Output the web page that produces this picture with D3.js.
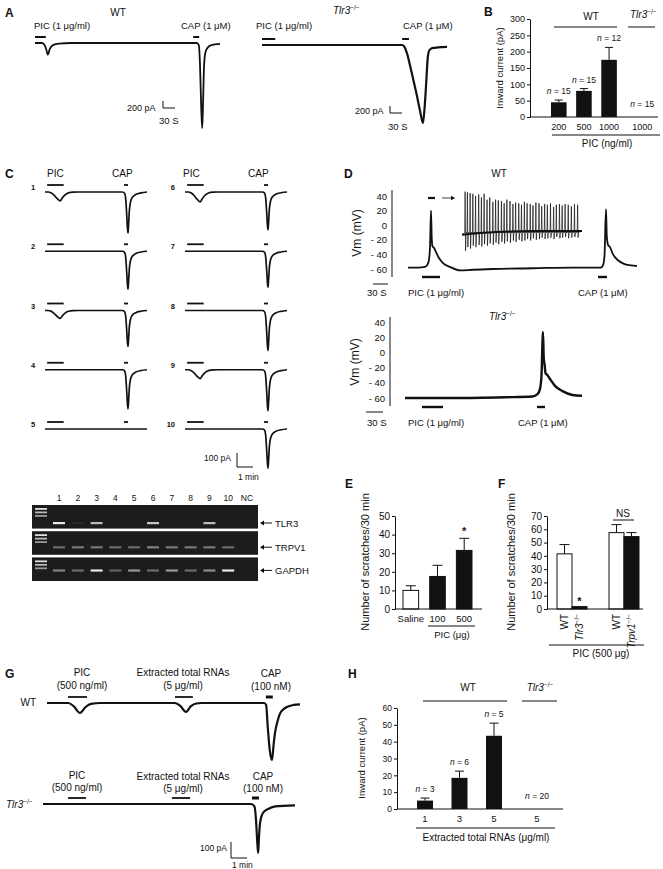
<!DOCTYPE html>
<html lang="en">
<head>
<meta charset="UTF-8">
<title>TLR3 figure</title>
<style>
  body { margin: 0; background: #fff; }
  text { font-family: "Liberation Sans", Arial, Helvetica, sans-serif; fill: #111; }
</style>
</head>
<body>
<svg width="663" height="869"></svg>
<script src="https://d3js.org/d3.v7.min.js"></script>
<script>
// ---------------- data ----------------
// A: inward currents, time (s) / current (pA)
var aWtTrace = [[0,0],[18,0],[24,-60],[28,-180],[32,-330],[37,-170],[45,-60],[60,-20],[90,0],[404,0],[409,-60],[412,-600],[415,-1800],[417.5,-2430],[419.5,-1800],[422,-700],[425,-300],[430,-150],[440,-60],[462,-25]];
var aKoTrace = [[0,0],[350,0],[355,-40],[362,-230],[370,-600],[378,-1000],[386,-1400],[395,-1900],[402,-2230],[406,-1800],[410,-1100],[414,-350],[418,-150],[425,-90],[440,-70],[462,-55]];
var aWtStim = [[0,27],[395,410]];
var aKoStim = [[0,33],[350,367]];

// B
var bDoses = ["200","500","1000","1000"];
var bGroup = ["WT","WT","WT","KO"];
var bMean = [45,80,175,0];
var bErr = [7,7,38,0];
var bN = [15,15,12,15];
var bTicks = [0,50,100,150,200,250,300];

// C: ten neurons, PIC and CAP response amplitudes (pA)
var cCells = [1,2,3,4,5,6,7,8,9,10];
var cPicAmp = [64,0,57,0,0,71,0,0,64,0];
var cCapAmp = [293,271,257,279,0,271,257,286,293,279];
var cPicShape = [[0,0],[12,0],[22,-0.08],[34,-0.35],[46,-0.75],[57,-1],[64,-0.7],[74,-0.35],[88,-0.1],[105,-0.02],[125,0]];
var cCapShape = [[290,0],[298,-0.03],[302,-0.15],[306,-0.55],[309,-0.9],[311,-1],[313,-0.8],[316,-0.45],[320,-0.25],[327,-0.13],[340,-0.06],[360,-0.02],[382,0]];
var cStim = [[8,70],[296,311]];

// C gel: band intensities per lane
var gelLanes = ["1","2","3","4","5","6","7","8","9","10","NC"];
var gelGenes = ["TLR3","TRPV1","GAPDH"];
var tlr3Band  = [0.9,0.05,0.7,0,0,0.75,0,0,0.7,0,0];
var trpv1Band = [0.35,0.4,0.4,0.35,0.35,0.45,0.4,0.4,0.4,0.35,0];
var gapdhBand = [0.45,0.35,0.9,0.3,0.55,0.35,0.55,0.35,0.5,0.9,0];

// D: membrane potential, time (s) / mV
var dWtTrace = [[0,-58],[20,-58],[34,-57],[39,-54],[42,-47],[44,-30],[46,20],[47.5,-18],[49,-29],[52,-31],[56,-37],[62,-45],[70,-52],[84,-57],[104,-62],[130,-61],[170,-60],[250,-59],[330,-58],[386,-58],[390,-55],[393,-42],[396,22],[397.5,-14],[400,-27],[404,-30],[410,-40],[420,-48],[432,-53],[446,-55],[458,-56]];
var dWtStim = [[28,64],[380,398]];
var insetT = [30,52,78,104,130,160,186,212,240,266,296,322,348,378,404,430,460,488,514,544,570,598,624,654,680,708,738,764,792,818,848,878,904,934,960,988,1018,1048,1078,1108];
var insetPeak = [46,45,44,43,40,42,38,43,35,38,32,35,34,33,30,35,33,29,31,30,28,32,30,29,27,31,30,26,29,28,30,25,28,29,27,29,28,26,29,28];
var insetTrough = [-35,-30,-32,-28,-30,-27,-29,-26,-28,-25,-27,-24,-26,-23,-25,-22,-24,-21,-23,-20,-22,-21,-19,-21,-18,-20,-19,-17,-19,-18,-17,-19,-16,-18,-17,-16,-18,-17,-16,-17];
var insetBase = [[0,-13],[150,-11],[400,-9],[700,-8],[1000,-8],[1150,-8]];
var dKoTrace = [[0,-60],[100,-60],[200,-59],[255,-58],[265,-55],[270,-48],[273,-30],[276,27],[277.5,-8],[279,-15],[281,-27],[285,-30],[290,-35],[300,-44],[315,-51],[335,-56],[354,-57]];
var dKoStim = [[34,76],[264,280]];
var vmTicks = [40,20,0,-20,-40,-60];

// E
var eCats = ["Saline","100","500"];
var eMean = [10,17.5,31.5];
var eErr = [2.5,6,6.5];
var eTicks = [0,10,20,30,40,50];

// F
var fCats = ["WT","Tlr3","WT","Trpv1"];
var fMean = [41.5,1.8,57.5,54.5];
var fErr = [7,0,6,3];
var fTicks = [0,10,20,30,40,50,60,70];

// G: currents, time (s) / pA
var gWtTrace = [[0,0],[80,0],[100,-20],[124,-62],[145,-25],[165,-5],[200,0],[480,0],[500,-18],[521,-56],[540,-20],[560,-3],[580,0],[815,0],[822,-12],[828,-150],[836,-300],[844,-356],[850,-260],[855,-190],[866,-106],[876,-60],[884,-44],[900,-25],[925,-12],[949,-8]];
var gWtStim = [[79,150],[480,547],[821,847]];
var gKoTrace = [[0,0],[780,0],[792,-15],[798,-100],[803,-250],[806,-306],[809,-210],[813,-120],[820,-70],[830,-45],[845,-30],[870,-15],[944,-8]];
var gKoStim = [[94,161],[483,551],[783,809]];

// H
var hDoses = ["1","3","5","5"];
var hGroup = ["WT","WT","WT","KO"];
var hMean = [5,18.5,43.5,0];
var hErr = [1.5,4,7.5,0];
var hN = [3,6,5,20];
var hTicks = [0,10,20,30,40,50,60];

// ---------------- helpers ----------------
var svg = d3.select("svg");

function txt(g, x, y, s, size, anchor, extra) {
  var t = g.append("text").attr("x", x).attr("y", y).attr("font-size", size)
    .attr("text-anchor", anchor || "start").text(s);
  if (extra) t.attr("font-weight", extra);
  return t;
}
function koText(g, x, y, gene, size, anchor) {
  var t = g.append("text").attr("x", x).attr("y", y).attr("font-size", size)
    .attr("text-anchor", anchor || "start");
  t.append("tspan").attr("font-style", "italic").text(gene);
  t.append("tspan").attr("font-size", size * 0.65).attr("dy", -size * 0.4).text("−/−");
  return t;
}
function nText(g, x, y, n, size) {
  var t = g.append("text").attr("x", x).attr("y", y).attr("font-size", size).attr("text-anchor", "middle");
  t.append("tspan").attr("font-style", "italic").text("n");
  t.append("tspan").text(" = " + n);
}
function hline(g, x1, x2, y, w) {
  g.append("line").attr("x1", x1).attr("x2", x2).attr("y1", y).attr("y2", y)
    .attr("stroke", "#111").attr("stroke-width", w || 1);
}
function vline(g, x, y1, y2, w) {
  g.append("line").attr("x1", x).attr("x2", x).attr("y1", y1).attr("y2", y2)
    .attr("stroke", "#111").attr("stroke-width", w || 1);
}
function trace(g, pts, x, y, w) {
  var line = d3.line().x(function(d){ return x(d[0]); }).y(function(d){ return y(d[1]); })
    .curve(d3.curveMonotoneX);
  g.append("path").datum(pts).attr("d", line).attr("fill", "none")
    .attr("stroke", "#111").attr("stroke-width", w || 1.6).attr("stroke-linejoin", "round");
}
function stim(g, spans, x, y, w) {
  spans.forEach(function(s){ hline(g, x(s[0]), x(s[1]), y, w || 2); });
}
function scaleBar(g, x0, yb, dx, dy) {
  g.append("path").attr("d", "M" + x0 + "," + (yb - dy) + "V" + yb + "H" + (x0 + dx))
    .attr("fill", "none").attr("stroke", "#111").attr("stroke-width", 1);
}
function yAxis(g, y, ticks, x, size, fmt) {
  var ax = d3.axisLeft(y).tickValues(ticks).tickSize(3).tickSizeOuter(0).tickPadding(2);
  if (fmt) ax.tickFormat(fmt);
  var a = g.append("g").attr("transform", "translate(" + x + ",0)").call(ax);
  a.selectAll("text").attr("font-size", size).style("font-family", "'Liberation Sans', Arial, sans-serif").attr("fill", "#111");
  a.selectAll("path,line").attr("stroke", "#111");
  return a;
}
function yLabel(g, x, y, s, size) {
  g.append("text").attr("transform", "translate(" + x + "," + y + ") rotate(-90)")
    .attr("text-anchor", "middle").attr("font-size", size).text(s);
}
function errBars(g, cx, y, mean, err, cap) {
  mean.forEach(function(m, i){
    if (!err[i]) return;
    var c = cx(i);
    vline(g, c, y(m), y(m + err[i]));
    hline(g, c - cap / 2, c + cap / 2, y(m + err[i]));
  });
}

// ---------------- A ----------------
var gA = svg.append("g");
txt(gA, 5, 17, "A", 12, "start", "bold");
var xA1 = d3.scaleLinear().domain([0, 462]).range([35, 220]);
var yA1 = d3.scaleLinear().domain([0, -2500]).range([43, 130.5]);
trace(gA, aWtTrace, xA1, yA1, 1.8);
stim(gA, aWtStim, xA1, 37);
txt(gA, 118, 16, "WT", 10, "middle");
txt(gA, 34, 29, "PIC (1 μg/ml)", 9.5);
txt(gA, 181, 29, "CAP (1 μM)", 9.5);
scaleBar(gA, 163, 108, xA1(30) - xA1(0), yA1(-200) - yA1(0));
txt(gA, 127, 111, "200 pA", 9);
txt(gA, 159, 124, "30 S", 9.5);

var xA2 = d3.scaleLinear().domain([0, 462]).range([262, 447]);
var yA2 = d3.scaleLinear().domain([0, -2500]).range([45, 132.5]);
trace(gA, aKoTrace, xA2, yA2, 2.2);
stim(gA, aKoStim, xA2, 39);
koText(gA, 333, 14, "Tlr3", 10);
txt(gA, 256, 29, "PIC (1 μg/ml)", 9.5);
txt(gA, 403, 29, "CAP (1 μM)", 9.5);
scaleBar(gA, 390, 113, xA2(30) - xA2(0), yA2(-200) - yA2(0));
txt(gA, 355, 114, "200 pA", 9);
txt(gA, 388, 130, "30 S", 9.5);

// ---------------- B ----------------
var gB = svg.append("g");
txt(gB, 484, 16, "B", 12, "start", "bold");
var xB = d3.scaleBand().domain(d3.range(bDoses.length)).range([551, 642]).paddingInner(0.38).paddingOuter(0);
var yB = d3.scaleLinear().domain([0, 300]).range([117, 19]);
function bx(i) { return xB(i) + (bGroup[i] === "KO" ? 8 : 0); }
gB.selectAll("rect.bar").data(bMean).join("rect").attr("class", "bar")
  .attr("x", function(d, i){ return bx(i); }).attr("width", xB.bandwidth())
  .attr("y", function(d){ return yB(d); }).attr("height", function(d){ return yB(0) - yB(d); })
  .attr("fill", "#111");
errBars(gB, function(i){ return bx(i) + xB.bandwidth() / 2; }, yB, bMean, bErr, 8);
yAxis(gB, yB, bTicks, 530, 9);
hline(gB, 530, 658, 117);
bDoses.forEach(function(d, i){
  var c = bx(i) + xB.bandwidth() / 2;
  txt(gB, c, 130, d, 9, "middle");
  nText(gB, c, bMean[i] > 0 ? yB(bMean[i] + bErr[i]) - 6 : 107, bN[i], 8.5);
});
hline(gB, 554, 617, 27);
txt(gB, 591, 20, "WT", 10, "middle");
hline(gB, 628, 655, 27);
koText(gB, 630, 18, "Tlr3", 10);
hline(gB, 552, 660, 135);
txt(gB, 607, 147, "PIC (ng/ml)", 10, "middle");
yLabel(gB, 503, 68, "Inward current (pA)", 9.5);

// ---------------- C ----------------
var gC = svg.append("g");
txt(gC, 5, 178, "C", 12, "start", "bold");
txt(gC, 47, 177, "PIC", 10); txt(gC, 112, 177, "CAP", 10);
txt(gC, 183, 177, "PIC", 10); txt(gC, 248, 177, "CAP", 10);
var rowY = d3.scalePoint().domain(d3.range(5)).range([192, 429]);
cCells.forEach(function(cell, i){
  var col = i < 5 ? 0 : 1, row = i % 5;
  var base = rowY(row);
  var x = d3.scaleLinear().domain([0, 382]).range(col ? [185, 287] : [45, 147]);
  var y = d3.scaleLinear().domain([0, -300]).range([base, base + 42]);
  var pts = cPicShape.map(function(p){ return [p[0], p[1] * cPicAmp[i]]; })
    .concat([[200, 0]])
    .concat(cCapShape.map(function(p){ return [p[0], p[1] * cCapAmp[i]]; }));
  trace(gC, pts, x, y, 1.7);
  stim(gC, cStim, x, base - 7, 1.8);
  txt(gC, col ? 175 : 33, base - 2, String(cell), 7.5, col ? "end" : "middle", "bold");
});
scaleBar(gC, 237, 467, 16, 14);
txt(gC, 231, 461, "100 pA", 8.5, "end");
txt(gC, 238, 480, "1 min", 8.5);

// gel
var lx = d3.scalePoint().domain(gelLanes).range([59, 247]);
gelLanes.forEach(function(l){ txt(gC, lx(l), 501, l, 8.5, "middle"); });
var gelTop = d3.scaleBand().domain(gelGenes).range([505, 581]).paddingInner(0.1);
var defs = svg.append("defs");
defs.append("filter").attr("id", "blur").append("feGaussianBlur").attr("stdDeviation", 0.7);
var bandSets = [tlr3Band, trpv1Band, gapdhBand];
var bandOff = [17, 15, 12];
gelGenes.forEach(function(gene, k){
  var top = gelTop(gene), h = gelTop.bandwidth();
  gC.append("rect").attr("x", 32).attr("y", top).attr("width", 226).attr("height", h).attr("fill", "#1c1c1c");
  [3, 6.5, 10].forEach(function(o, j){
    gC.append("rect").attr("x", 35).attr("y", top + o).attr("width", 12).attr("height", 1.8)
      .attr("fill", "#fff").attr("opacity", 0.85 - j * 0.15).attr("filter", "url(#blur)");
  });
  gC.selectAll(null).data(bandSets[k]).join("rect")
    .attr("x", function(d, i){ return lx(gelLanes[i]) - 6; }).attr("width", 12)
    .attr("y", top + bandOff[k]).attr("height", 2.2)
    .attr("fill", "#fff").attr("opacity", function(d){ return d; }).attr("filter", "url(#blur)");
  var ay = top + bandOff[k] + 1;
  gC.append("path").attr("d", "M260," + ay + "l4,-2.5v5z").attr("fill", "#111");
  hline(gC, 262, 272, ay);
  txt(gC, 275, ay + 3.5, gene, 9.5);
});

// ---------------- D ----------------
var gD = svg.append("g");
txt(gD, 344, 178, "D", 12, "start", "bold");
txt(gD, 499, 177, "WT", 10, "middle");
var xD1 = d3.scaleLinear().domain([0, 458]).range([408, 637]);
var yD1 = d3.scaleLinear().domain([-60, 40]).range([269, 196]);
var vmFmt = function(d){ return d < 0 ? "- " + (-d) : String(d); };
var aD1 = yAxis(gD, yD1, vmTicks, 392, 9.5, vmFmt);
aD1.call(function(a){ a.selectAll(".tick line").remove(); a.select(".domain").attr("d", "M0,190V277"); });
trace(gD, dWtTrace, xD1, yD1, 1.8);
stim(gD, dWtStim, xD1, 277, 2.4);
hline(gD, xD1(40), xD1(54), 198, 2.2);
hline(gD, xD1(68), xD1(92), 198, 0.8);
gD.append("path").attr("d", "M" + xD1(94) + ",198l-4,-2.2v4.4z").attr("fill", "#111");
var xIn = d3.scaleLinear().domain([0, 1150]).range([462, 582]);
var inPts = [[0, -13]];
insetT.forEach(function(t, i){
  inPts.push([t - 4, -10], [t, insetPeak[i]], [t + 4, insetTrough[i]], [t + 9, -10]);
});
inPts.push([1150, -8]);
gD.append("path").datum(inPts)
  .attr("d", d3.line().x(function(d){ return xIn(d[0]); }).y(function(d){ return yD1(d[1]); }))
  .attr("fill", "none").attr("stroke", "#111").attr("stroke-width", 0.7);
trace(gD, insetBase, xIn, yD1, 2);
yLabel(gD, 361, 233, "Vm (mV)", 12);
hline(gD, 373, 388, 284, 1);
txt(gD, 367, 296, "30 S", 9.5);
txt(gD, 408, 296, "PIC (1 μg/ml)", 9.5);
txt(gD, 578, 296, "CAP (1 μM)", 9.5);

var xD2 = d3.scaleLinear().domain([0, 354]).range([405, 582]);
var yD2 = d3.scaleLinear().domain([-60, 40]).range([398, 322]);
var aD2 = yAxis(gD, yD2, vmTicks, 390, 9.5, vmFmt);
aD2.call(function(a){ a.selectAll(".tick line").remove(); a.select(".domain").attr("d", "M0,317V406"); });
trace(gD, dKoTrace, xD2, yD2, 2.4);
stim(gD, dKoStim, xD2, 407, 2.4);
koText(gD, 489, 320, "Tlr3", 10);
yLabel(gD, 359, 362, "Vm (mV)", 12);
hline(gD, 366, 383, 412, 1);
txt(gD, 367, 426, "30 S", 9.5);
txt(gD, 408, 426, "PIC (1 μg/ml)", 9.5);
txt(gD, 518, 426, "CAP (1 μM)", 9.5);

// ---------------- E ----------------
var gE = svg.append("g");
txt(gE, 345, 488, "E", 12, "start", "bold");
var xE = d3.scaleBand().domain(d3.range(eCats.length)).range([403, 472]).paddingInner(0.415).paddingOuter(0);
var yE = d3.scaleLinear().domain([0, 50]).range([609, 516]);
gE.selectAll("rect.bar").data(eMean).join("rect").attr("class", "bar")
  .attr("x", function(d, i){ return xE(i); }).attr("width", xE.bandwidth())
  .attr("y", function(d){ return yE(d); }).attr("height", function(d){ return yE(0) - yE(d); })
  .attr("fill", function(d, i){ return i === 0 ? "#fff" : "#111"; })
  .attr("stroke", "#111").attr("stroke-width", 1);
errBars(gE, function(i){ return xE(i) + xE.bandwidth() / 2; }, yE, eMean, eErr, 10);
yAxis(gE, yE, eTicks, 395, 10);
hline(gE, 395, 482, 609);
eCats.forEach(function(c, i){ txt(gE, xE(i) + xE.bandwidth() / 2, 622, c, 9.5, "middle"); });
txt(gE, xE(2) + xE.bandwidth() / 2, yE(eMean[2] + eErr[2]) - 3, "*", 11, "middle", "bold");
hline(gE, 428, 475, 626);
txt(gE, 452, 638, "PIC (μg)", 9.5, "middle");
yLabel(gE, 369, 562, "Number of scratches/30 min", 11);

// ---------------- F ----------------
var gF = svg.append("g");
txt(gF, 498, 488, "F", 12, "start", "bold");
var xFo = d3.scaleBand().domain([0, 1]).range([557, 639]).paddingInner(0.423).paddingOuter(0);
var xFi = d3.scaleBand().domain([0, 1]).range([0, xFo.bandwidth()]);
var yF = d3.scaleLinear().domain([0, 70]).range([609, 516]);
function fx(i) { return xFo(Math.floor(i / 2)) + xFi(i % 2); }
gF.selectAll("rect.bar").data(fMean).join("rect").attr("class", "bar")
  .attr("x", function(d, i){ return fx(i); }).attr("width", xFi.bandwidth())
  .attr("y", function(d){ return yF(d); }).attr("height", function(d){ return yF(0) - yF(d); })
  .attr("fill", function(d, i){ return i % 2 ? "#111" : "#fff"; })
  .attr("stroke", "#111").attr("stroke-width", 1);
errBars(gF, function(i){ return fx(i) + xFi.bandwidth() / 2; }, yF, fMean, fErr, 10);
yAxis(gF, yF, fTicks, 547, 10);
hline(gF, 547, 643, 609);
fCats.forEach(function(c, i){
  var cx = fx(i) + xFi.bandwidth() / 2 + 3.5;
  if (c === "WT") {
    gF.append("text").attr("transform", "translate(" + cx + ",614) rotate(-90)")
      .attr("text-anchor", "end").attr("font-size", 10).text(c);
  } else {
    var t = koText(gF, 0, 0, c, 10, "end");
    t.attr("transform", "translate(" + cx + ",614) rotate(-90)");
  }
});
txt(gF, fx(1) + xFi.bandwidth() / 2, yF(fMean[1]) - 2, "*", 11, "middle", "bold");
hline(gF, 613, 634, 520);
txt(gF, 623, 517, "NS", 10, "middle");
hline(gF, 549, 644, 645);
txt(gF, 601, 657, "PIC (500 μg)", 10, "middle");
yLabel(gF, 515, 562, "Number of scratches/30 min", 11);

// ---------------- G ----------------
var gG = svg.append("g");
txt(gG, 5, 678, "G", 12, "start", "bold");
var xG1 = d3.scaleLinear().domain([0, 949]).range([47, 300]);
var yG1 = d3.scaleLinear().domain([0, -400]).range([703, 767]);
trace(gG, gWtTrace, xG1, yG1, 2.2);
stim(gG, gWtStim.slice(0, 2), xG1, 697, 1.8);
stim(gG, gWtStim.slice(2), xG1, 697, 3);
txt(gG, 36, 706, "WT", 10, "end");
txt(gG, 82, 676, "PIC", 10, "middle"); txt(gG, 82, 689, "(500 ng/ml)", 10, "middle");
txt(gG, 183, 676, "Extracted total RNAs", 10, "middle"); txt(gG, 183, 689, "(5 μg/ml)", 10, "middle");
txt(gG, 271, 677, "CAP", 10, "middle"); txt(gG, 271, 690, "(100 nM)", 10, "middle");

var xG2 = d3.scaleLinear().domain([0, 944]).range([43, 295]);
var yG2 = d3.scaleLinear().domain([0, -400]).range([804, 868]);
trace(gG, gKoTrace, xG2, yG2, 2.2);
stim(gG, gKoStim.slice(0, 2), xG2, 798, 1.8);
stim(gG, gKoStim.slice(2), xG2, 798, 3);
koText(gG, 6, 808, "Tlr3", 10);
txt(gG, 77, 779, "PIC", 10, "middle"); txt(gG, 77, 791, "(500 ng/ml)", 10, "middle");
txt(gG, 183, 780, "Extracted total RNAs", 10, "middle"); txt(gG, 183, 792, "(5 μg/ml)", 10, "middle");
txt(gG, 263, 780, "CAP", 10, "middle"); txt(gG, 263, 792, "(100 nM)", 10, "middle");
scaleBar(gG, 231, 858, xG2(60) - xG2(0), yG2(-100) - yG2(0));
txt(gG, 227, 851, "100 pA", 8.5, "end");
txt(gG, 232, 868, "1 min", 8.5);

// ---------------- H ----------------
var gH = svg.append("g");
txt(gH, 348, 678, "H", 12, "start", "bold");
var xH = d3.scaleBand().domain(d3.range(hDoses.length)).range([417, 536.5]).paddingInner(0.536).paddingOuter(0);
var yH = d3.scaleLinear().domain([0, 60]).range([809, 708]);
function hx(i) { return xH(i) + (hGroup[i] === "KO" ? 8.5 : 0); }
gH.selectAll("rect.bar").data(hMean).join("rect").attr("class", "bar")
  .attr("x", function(d, i){ return hx(i); }).attr("width", xH.bandwidth())
  .attr("y", function(d){ return yH(d); }).attr("height", function(d){ return yH(0) - yH(d); })
  .attr("fill", "#111");
errBars(gH, function(i){ return hx(i) + xH.bandwidth() / 2; }, yH, hMean, hErr, 9);
yAxis(gH, yH, hTicks, 397, 8.5);
hline(gH, 397, 563, 809);
hDoses.forEach(function(d, i){
  var c = hx(i) + xH.bandwidth() / 2;
  txt(gH, c, 822, d, 9.5, "middle");
  nText(gH, c, hMean[i] > 0 ? yH(hMean[i] + hErr[i]) - 6 : 799, hN[i], 8.5);
});
hline(gH, 423, 507, 701);
txt(gH, 468, 691, "WT", 10, "middle");
hline(gH, 522, 557, 701);
koText(gH, 540, 691, "Tlr3", 10, "middle");
hline(gH, 416, 555, 828);
txt(gH, 486, 841, "Extracted total RNAs (μg/ml)", 10, "middle");
yLabel(gH, 365, 758, "Inward current (pA)", 9.5);
</script>
</body>
</html>
